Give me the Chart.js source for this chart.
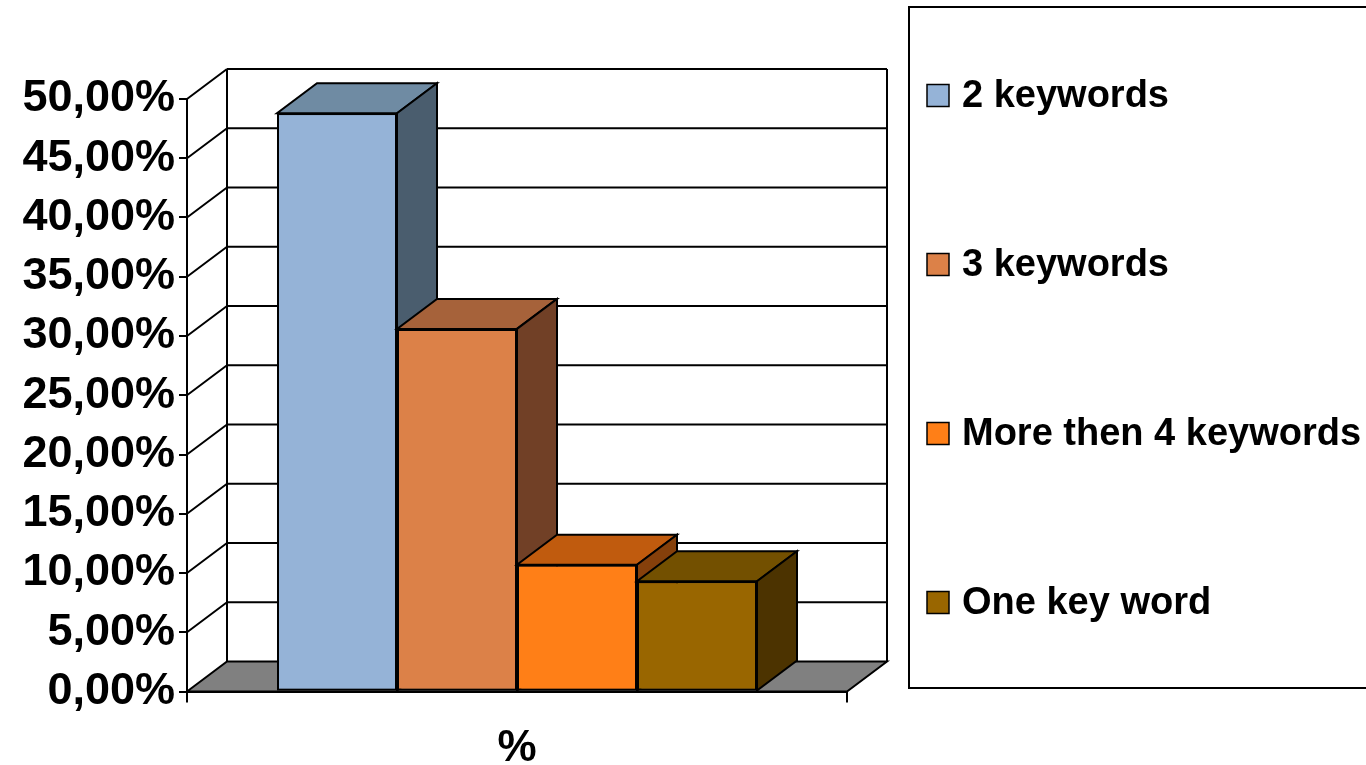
<!DOCTYPE html>
<html>
<head>
<meta charset="utf-8">
<script src="https://cdn.jsdelivr.net/npm/chart.js@4.4.1/dist/chart.umd.min.js"></script>
<style>
  body { margin: 0; background: #fff; }
  #wrap { width: 1366px; height: 765px; }
</style>
</head>
<body>
<div id="wrap"><canvas id="myChart" width="1366" height="765"></canvas></div>
<script>
// data
const categories = ['%']
const seriesNames = ['2 keywords', '3 keywords', 'More then 4 keywords', 'One key word']
const seriesValues = [48.8, 30.6, 10.7, 9.3]
const yMax = 50
const yStep = 5

// colours: front face, top face, side face
const frontColors = ['#95B3D7', '#DC8148', '#FF7F17', '#996600']
const topColors = ['#6F8BA3', '#A6623A', '#C05B0E', '#735000']
const sideColors = ['#4A5D6E', '#714026', '#85400B', '#4C3300']

// depth of the 3d box
const DX = 40
const DY = 30
const FONT = 'Liberation Sans, Arial, sans-serif'

function poly(ctx, pts, fill) {
  ctx.beginPath()
  ctx.moveTo(pts[0][0], pts[0][1])
  for (let i = 1; i < pts.length; i++) ctx.lineTo(pts[i][0], pts[i][1])
  ctx.closePath()
  if (fill) { ctx.fillStyle = fill; ctx.fill() }
  ctx.lineWidth = 2
  ctx.strokeStyle = '#000'
  ctx.stroke()
}

const box3d = {
  id: 'box3d',
  beforeDatasetsDraw(chart) {
    const ctx = chart.ctx
    const a = chart.chartArea
    const ys = chart.scales.y
    const y0 = ys.getPixelForValue(0)
    ctx.save()
    // floor
    poly(ctx, [[a.left, y0], [a.left + DX, y0 - DY], [a.right + DX, y0 - DY], [a.right, y0]], '#808080')
    // back wall grid lines + left wall diagonals
    ctx.lineWidth = 2
    ctx.strokeStyle = '#000'
    ctx.beginPath()
    for (let v = yStep; v <= yMax; v += yStep) {
      const py = ys.getPixelForValue(v)
      ctx.moveTo(a.left + DX, py - DY)
      ctx.lineTo(a.right + DX, py - DY)
      ctx.moveTo(a.left, py)
      ctx.lineTo(a.left + DX, py - DY)
    }
    const top = ys.getPixelForValue(yMax)
    ctx.moveTo(a.left + DX, top - DY)
    ctx.lineTo(a.left + DX, y0 - DY)
    ctx.moveTo(a.right + DX, top - DY)
    ctx.lineTo(a.right + DX, y0 - DY)
    ctx.stroke()
    ctx.restore()
  },
  afterDatasetsDraw(chart) {
    // redraw the boxes left to right so each one hides the side of the one before
    const ctx = chart.ctx
    ctx.save()
    chart.data.datasets.forEach(function (ds, i) {
      chart.getDatasetMeta(i).data.forEach(function (el) {
        el.draw(ctx)
        const p = el.getProps(['x', 'y', 'base', 'width'], true)
        const l = p.x - p.width / 2
        const r = p.x + p.width / 2
        poly(ctx, [[l, p.y], [r, p.y], [r + DX, p.y - DY], [l + DX, p.y - DY]], topColors[i])
        poly(ctx, [[r, p.y], [r + DX, p.y - DY], [r + DX, p.base - DY], [r, p.base]], sideColors[i])
      })
    })
    ctx.restore()
  },
  afterDraw(chart) {
    // legend box on the right
    const ctx = chart.ctx
    ctx.save()
    ctx.lineWidth = 2
    ctx.strokeStyle = '#000'
    ctx.strokeRect(909, 7, 470, 681)
    ctx.font = 'bold 38px ' + FONT
    ctx.textBaseline = 'middle'
    chart.data.datasets.forEach(function (ds, i) {
      const cy = 95.5 + i * 169
      ctx.fillStyle = ds.backgroundColor
      ctx.fillRect(927, cy - 11, 22, 22)
      ctx.lineWidth = 1.5
      ctx.strokeRect(927, cy - 11, 22, 22)
      ctx.fillStyle = '#000'
      ctx.fillText(ds.label, 962, cy + 1)
    })
    ctx.restore()
  }
}

const ctx = document.getElementById('myChart').getContext('2d')
const chart = new Chart(ctx, {
  type: 'bar',
  data: {
    labels: categories,
    datasets: seriesNames.map(function (name, i) {
      return {
        label: name,
        data: [seriesValues[i]],
        backgroundColor: frontColors[i],
        borderColor: '#000',
        borderWidth: 2,
        borderSkipped: false
      }
    })
  },
  options: {
    responsive: false,
    animation: false,
    categoryPercentage: 480 / 660,
    barPercentage: 1,
    layout: { padding: { left: 0, top: 99, right: 519, bottom: 0 } },
    plugins: { legend: { display: false }, tooltip: { enabled: false } },
    scales: {
      x: {
        afterFit: function (s) { s.height = 73.5 },
        grid: { drawOnChartArea: false, color: '#000', lineWidth: 2, tickLength: 11 },
        border: { display: true, color: '#000', width: 2 },
        ticks: { color: '#000', padding: 20, font: { family: FONT, size: 44, weight: 'bold' } }
      },
      y: {
        min: 0,
        max: yMax,
        afterFit: function (s) { s.width = 187 },
        grid: { drawOnChartArea: false, color: '#000', lineWidth: 2, tickLength: 8 },
        border: { display: true, color: '#000', width: 2 },
        ticks: {
          stepSize: yStep,
          autoSkip: false,
          padding: 4,
          color: '#000',
          font: { family: FONT, size: 45, weight: 'bold' },
          callback: function (v) { return v.toFixed(2).replace('.', ',') + '%' }
        }
      }
    }
  },
  plugins: [box3d]
})
</script>
</body>
</html>
